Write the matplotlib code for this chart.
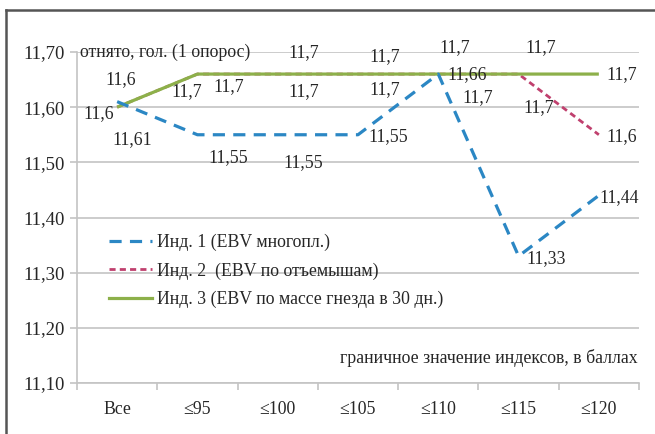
import matplotlib
matplotlib.use("Agg")
import matplotlib.pyplot as plt
from matplotlib.lines import Line2D
from matplotlib.ticker import FuncFormatter, FixedLocator

plt.rcParams['font.family'] = ['Liberation Serif', 'DejaVu Serif']

# категории и значения
categories = ["Все", "≤95", "≤100", "≤105", "≤110", "≤115", "≤120"]
ind1 = [11.61, 11.55, 11.55, 11.55, 11.66, 11.33, 11.44]
ind2 = [11.60, 11.66, 11.66, 11.66, 11.66, 11.66, 11.55]
ind3 = [11.60, 11.66, 11.66, 11.66, 11.66, 11.66, 11.66]

names = ["Инд. 1 (EBV многопл.)",
         "Инд. 2  (EBV по отъемышам)",
         "Инд. 3 (EBV по массе гнезда в 30 дн.)"]
y_title = "отнято, гол. (1 опорос)"
x_title = "граничное значение индексов, в баллах"

# сдвиги подписей, пиксели (вправо, вниз)
off1 = [(15, 38), (31, 23), (26, 28), (30, 2), (29, 1), (28, 2), (20, 2)]
off2 = [(-18, 6), (31, 13), (26, 18), (27, 16), (39, 24), (20, 34), (23, 2)]
off3 = [(4, -28), (-11, 18), (26, -21), (27, -17), (16, -26), (22, -26), (23, 1)]

c_blue = "#2B87C4"
c_red = "#C0406E"
c_green = "#8DB04A"
c_grid = "#C4C4C4"
c_text = "#262626"
fs = 12.8

W, H = 655, 434
fig = plt.figure(figsize=(W / 100, H / 100), dpi=100)
ax = fig.add_axes([77 / W, 1 - 383 / H, (639 - 77) / W, (383 - 52) / H])

x = list(range(len(categories)))
ax.plot(x, ind2, color=c_red, lw=2.0, dashes=(2.2, 1.5), zorder=3)
ax.plot(x, ind3, color=c_green, lw=2.3, solid_capstyle="butt", zorder=4)
ax.plot(x, ind1, color=c_blue, lw=2.3, dashes=(3.8, 2.6), zorder=5)

fmt = lambda v, d: f"{v:.{d}f}".replace(".", ",")
for vals, offs, d in ((ind1, off1, 2), (ind2, off2, 1), (ind3, off3, 1)):
    for i, v in enumerate(vals):
        dx, dy = offs[i]
        ax.annotate(fmt(v, d), (i, v), xytext=(dx, -dy), textcoords="offset pixels",
                    ha="center", va="center", fontsize=fs, color=c_text, zorder=6)

ax.set_xlim(-0.5, len(categories) - 0.5)
ax.set_ylim(11.10, 11.70)
ax.set_yticks([11.1 + 0.1 * k for k in range(7)])
ax.yaxis.set_major_formatter(FuncFormatter(lambda v, p: fmt(v, 2)))
ax.set_xticks(x)
ax.set_xticklabels(categories)
ax.xaxis.set_minor_locator(FixedLocator([i - 0.5 for i in range(len(categories) + 1)]))
ax.tick_params(axis="x", which="major", length=0, pad=13, labelsize=fs, labelcolor=c_text)
ax.tick_params(axis="x", which="minor", length=5, color=c_grid, width=1.2)
ax.tick_params(axis="y", length=5, color=c_grid, width=1.2, pad=4, labelsize=13.5,
               labelcolor=c_text)

ax.grid(axis="y", color=c_grid, lw=1.2)
ax.set_axisbelow(True)
for s in ("top", "right"):
    ax.spines[s].set_visible(False)
for s in ("left", "bottom"):
    ax.spines[s].set_color(c_grid)
    ax.spines[s].set_linewidth(1.2)

ax.text(80 / W, 1 - 52 / H, y_title, transform=fig.transFigure, ha="left", va="center",
        fontsize=fs, color=c_text)
ax.text(638 / W, 1 - 358 / H, x_title, transform=fig.transFigure, ha="right", va="center",
        fontsize=fs, color=c_text)

handles = [Line2D([], [], color=c_blue, lw=2.3, dashes=(3.8, 2.6)),
           Line2D([], [], color=c_red, lw=2.0, dashes=(2.2, 1.5)),
           Line2D([], [], color=c_green, lw=2.3)]
fig.legend(handles, names, loc="upper left", bbox_to_anchor=(100 / W, 1 - 225 / H),
           frameon=False, borderpad=0, handlelength=2.4, handletextpad=0.3,
           labelspacing=0.62, fontsize=fs, labelcolor=c_text)

# рамка
fig.add_artist(Line2D([6 / W, 6 / W], [0, 1 - 10 / H], transform=fig.transFigure,
                      color="#555555", lw=1.8))
fig.add_artist(Line2D([6 / W, 1], [1 - 10 / H, 1 - 10 / H], transform=fig.transFigure,
                      color="#555555", lw=1.8))

fig.savefig("out.png", dpi=100)
